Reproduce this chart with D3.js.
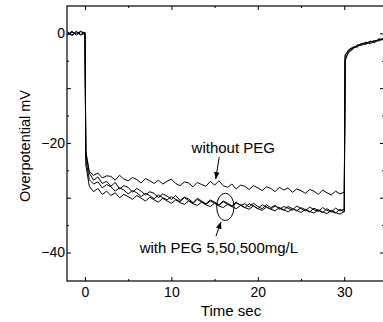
<!DOCTYPE html>
<html>
<head>
<meta charset="utf-8">
<script src="https://cdn.jsdelivr.net/npm/d3@7"></script>
<style>
  body { margin: 0; background: #fff; }
  text { font-family: "Liberation Sans", Arial, sans-serif; }
</style>
</head>
<body>
<svg width="383" height="322"></svg>
<script>
// sample times (s), shared by all four traces
var times = [-2, -1.5, -1, -0.5, 0, 0.1,
  0.5, 1, 1.5, 2, 2.5, 3, 3.5, 4, 4.5, 5, 5.5, 6, 6.5, 7, 7.5, 8, 8.5, 9, 9.5, 10,
  10.5, 11, 11.5, 12, 12.5, 13, 13.5, 14, 14.5, 15, 15.5, 16, 16.5, 17, 17.5, 18, 18.5, 19, 19.5, 20,
  20.5, 21, 21.5, 22, 22.5, 23, 23.5, 24, 24.5, 25, 25.5, 26, 26.5, 27, 27.5, 28, 28.5, 29, 29.5, 30,
  30.1, 30.5, 31, 31.5, 32, 32.5, 33, 33.5, 34, 34.5];

// overpotential (mV)
var withoutPEG = [0.3, -0.4, 0.2, -0.3, 0.0, -21.5,
  -25.2, -25.9, -25.5, -26.4, -26.0, -26.1, -26.8, -25.9, -26.6, -26.9,
  -26.3, -26.7, -27.3, -26.5, -26.9, -27.4, -26.8, -27.5, -27.0, -26.6,
  -27.4, -27.8, -27.1, -27.3, -28.0, -27.2, -27.6, -27.9, -27.0, -27.7,
  -26.9, -27.8, -28.1, -27.5, -28.4, -27.7, -27.9, -28.5, -27.8, -28.2,
  -28.7, -28.0, -28.3, -28.9, -28.1, -28.6, -28.2, -29.0, -28.4, -28.7,
  -29.2, -28.5, -28.8, -29.4, -28.6, -29.1, -29.5, -28.8, -29.3, -29.0,
  -5.0, -3.3, -2.7, -2.2, -2.0, -1.6, -1.9, -1.4, -1.2, -1.0];

var peg5 = [-0.2, 0.4, -0.3, 0.3, 0.1, -22.0,
  -25.5, -26.8, -26.2, -27.4, -27.0, -27.9, -27.2, -28.4, -27.8, -28.1,
  -29.0, -28.3, -28.8, -29.5, -28.9, -29.2, -30.0, -29.3, -29.7, -30.3,
  -29.6, -30.5, -29.9, -30.2, -30.9, -30.1, -30.6, -31.1, -30.4, -30.8,
  -31.3, -30.6, -31.0, -31.5, -30.8, -31.4, -31.1, -31.7, -31.0, -31.6,
  -32.0, -31.3, -31.8, -31.4, -32.1, -31.6, -31.9, -32.3, -31.5, -32.0,
  -32.4, -31.7, -32.2, -32.5, -31.8, -32.3, -32.6, -31.9, -32.4, -32.1,
  -4.2, -3.0, -2.5, -2.4, -1.8, -1.9, -1.5, -1.6, -1.1, -1.2];

var peg50 = [0.1, -0.3, 0.4, -0.2, 0.2, -23.0,
  -26.7, -27.5, -27.1, -28.2, -27.6, -28.0, -28.8, -28.2, -28.6, -29.3,
  -28.7, -29.1, -29.8, -29.2, -29.6, -30.2, -29.5, -30.0, -30.4, -29.8,
  -30.3, -30.7, -30.0, -30.5, -31.0, -30.3, -30.8, -31.2, -30.6, -31.0,
  -31.4, -30.7, -31.2, -31.6, -31.0, -31.3, -31.8, -31.1, -31.5, -32.0,
  -31.3, -31.7, -32.1, -31.5, -31.9, -32.3, -31.6, -32.0, -32.4, -31.8,
  -32.2, -32.6, -31.9, -32.3, -32.7, -32.0, -32.5, -32.8, -32.1, -32.6,
  -4.8, -3.5, -2.9, -2.1, -2.2, -1.7, -1.6, -1.3, -1.4, -0.9];

var peg500 = [-0.3, 0.2, -0.1, 0.4, -0.1, -24.0,
  -27.9, -28.9, -28.3, -29.4, -28.8, -29.6, -29.1, -30.0, -29.4, -29.8,
  -30.3, -29.6, -30.1, -30.6, -29.9, -30.4, -30.8, -30.1, -30.6, -31.0,
  -30.4, -30.9, -31.2, -30.6, -31.1, -31.4, -30.8, -31.3, -31.6, -31.0,
  -31.5, -31.8, -31.2, -31.6, -32.0, -31.4, -31.8, -32.1, -31.5, -32.0,
  -32.3, -31.7, -32.1, -32.4, -31.8, -32.2, -32.6, -32.0, -32.3, -32.7,
  -32.1, -32.5, -32.8, -32.2, -32.6, -32.9, -32.3, -32.7, -33.0, -32.5,
  -3.9, -3.1, -2.6, -2.5, -1.9, -2.0, -1.4, -1.7, -1.0, -1.1];

var series = [withoutPEG, peg5, peg50, peg500];

var xMajor = [0, 10, 20, 30], xMinor = [5, 15, 25];
var yMajor = [-40, -30, -20, -10, 0], yMinor = [-35, -25, -15, -5];
var yLabels = [-40, -20, 0];

var svg = d3.select("svg"),
    margin = {top: 6, right: -1, bottom: 41, left: 67},
    width = 383 - margin.left - margin.right,
    height = 322 - margin.top - margin.bottom;

var x = d3.scaleLinear().domain([-2.08, 34.6]).range([0, width]),
    y = d3.scaleLinear().domain([-45.2, 5]).range([height, 0]);

var g = svg.append("g")
    .attr("transform", "translate(" + margin.left + "," + margin.top + ")");

function noDomain(sel) { sel.select(".domain").remove(); }
function styleText(sel) {
  sel.attr("font-family", "Liberation Sans, Arial, sans-serif").attr("font-size", 14);
  sel.selectAll("text").attr("fill", "#000");
}

// x axes (bottom with labels, top ticks only)
g.append("g").attr("transform", "translate(0," + height + ")")
  .call(d3.axisBottom(x).tickValues(xMajor).tickSize(-4).tickPadding(6).tickFormat(d3.format("d")))
  .call(noDomain).call(styleText);
g.append("g").attr("transform", "translate(0," + height + ")")
  .call(d3.axisBottom(x).tickValues(xMinor).tickSize(-2).tickFormat(""))
  .call(noDomain);
g.append("g")
  .call(d3.axisTop(x).tickValues(xMajor).tickSize(-4).tickFormat(""))
  .call(noDomain);
g.append("g")
  .call(d3.axisTop(x).tickValues(xMinor).tickSize(-2).tickFormat(""))
  .call(noDomain);

// y axes
g.append("g")
  .call(d3.axisLeft(y).tickValues(yMajor).tickSize(-4).tickPadding(2)
    .tickFormat(function(d) { return yLabels.indexOf(d) >= 0 ? d3.format("d")(d) : ""; }))
  .call(noDomain).call(styleText);
g.append("g")
  .call(d3.axisLeft(y).tickValues(yMinor).tickSize(-2).tickFormat(""))
  .call(noDomain);
g.append("g").attr("transform", "translate(" + width + ",0)")
  .call(d3.axisRight(y).tickValues(yMajor).tickSize(-4).tickFormat(""))
  .call(noDomain);
g.append("g").attr("transform", "translate(" + width + ",0)")
  .call(d3.axisRight(y).tickValues(yMinor).tickSize(-2).tickFormat(""))
  .call(noDomain);

g.selectAll(".tick line").attr("stroke", "#000");

// frame
g.append("rect")
  .attr("width", width).attr("height", height)
  .attr("fill", "none").attr("stroke", "#000").attr("stroke-width", 1.2);

// traces
var line = d3.line()
  .x(function(d, i) { return x(times[i]); })
  .y(function(d) { return y(d); });

g.selectAll(".trace")
  .data(series)
  .enter().append("path")
    .attr("class", "trace")
    .attr("fill", "none")
    .attr("stroke", "#000")
    .attr("stroke-width", 1)
    .attr("d", line);

// annotations
svg.append("defs").append("marker")
  .attr("id", "head").attr("viewBox", "0 0 10 10")
  .attr("refX", 10).attr("refY", 5)
  .attr("markerWidth", 7).attr("markerHeight", 7)
  .attr("markerUnits", "userSpaceOnUse")
  .attr("orient", "auto")
  .append("path").attr("d", "M0,1L10,5L0,9Z").attr("fill", "#000");

g.append("text")
  .attr("x", x(17.16)).attr("y", y(-21.9))
  .attr("text-anchor", "middle").attr("font-size", 15)
  .text("without PEG");
g.append("line")
  .attr("x1", x(15.53)).attr("y1", y(-22.6))
  .attr("x2", x(15.13)).attr("y2", y(-26.6))
  .attr("stroke", "#000").attr("marker-end", "url(#head)");

g.append("ellipse")
  .attr("cx", x(16.24)).attr("cy", y(-31.67))
  .attr("rx", x(1.0) - x(0)).attr("ry", y(-2.5) - y(0))
  .attr("fill", "none").attr("stroke", "#000");
g.append("line")
  .attr("x1", x(15.16)).attr("y1", y(-37.0))
  .attr("x2", x(15.74)).attr("y2", y(-34.4))
  .attr("stroke", "#000").attr("marker-end", "url(#head)");
g.append("text")
  .attr("x", x(15.5)).attr("y", y(-40.05))
  .attr("text-anchor", "middle").attr("font-size", 15)
  .text("with PEG 5,50,500mg/L");

// axis titles
svg.append("text")
  .attr("x", 231).attr("y", 316)
  .attr("text-anchor", "middle").attr("font-size", 15)
  .text("Time sec");
svg.append("text")
  .attr("transform", "translate(30,146) rotate(-90)")
  .attr("text-anchor", "middle").attr("font-size", 14.5)
  .text("Overpotential mV");
</script>
</body>
</html>
